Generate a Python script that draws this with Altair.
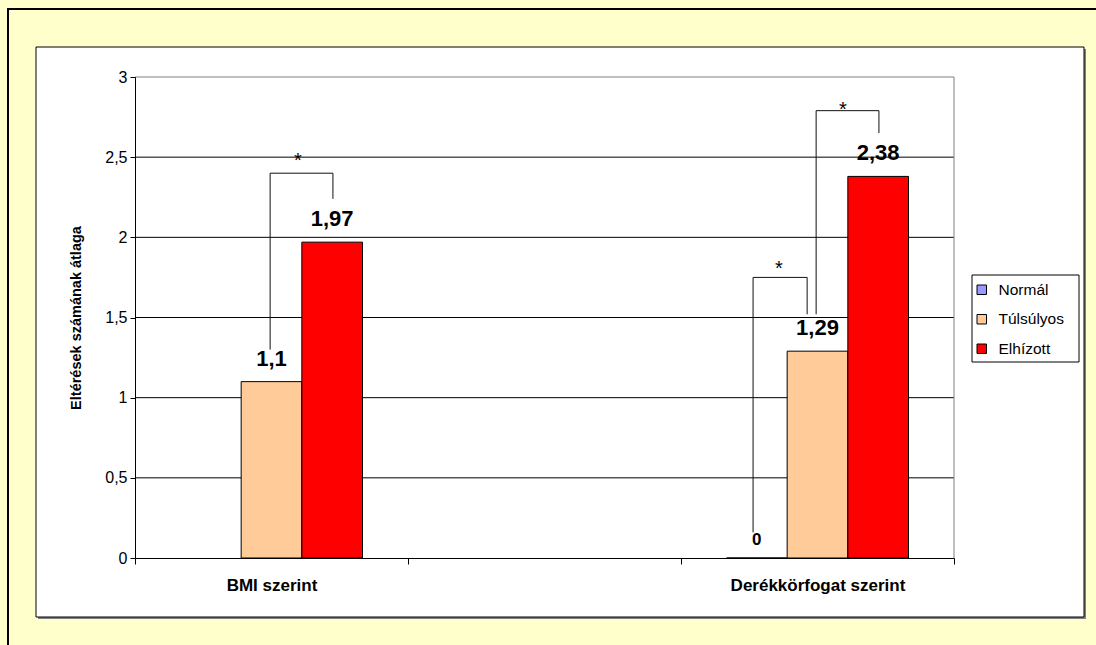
import altair as alt
import pandas as pd

# Category slots along the x axis (the middle slot stays empty)
category_labels = ["BMI szerint", "", "Derékkörfogat szerint"]
series_names = ["Normál", "Túlsúlyos", "Elhízott"]
series_colors = ["#9999FF", "#FFCC99", "#FF0000"]

# Mean number of deviations per group (None = no bar)
bmi_values = [None, 1.1, 1.97]
derek_values = [0.0, 1.29, 2.38]

y_ticks = [0, 0.5, 1, 1.5, 2, 2.5, 3]

# Significance brackets: x in category-slot units, y in axis units
bracket_left_x = [0.495, 2.264, 2.495]
bracket_right_x = [0.725, 2.462, 2.725]
bracket_top = [2.40, 1.75, 2.79]
bracket_left_bottom = [1.30, 0.16, 1.52]
bracket_right_bottom = [2.24, 1.52, 2.65]
star_x = [0.597, 2.359, 2.593]
star_y = [2.51, 1.834, 2.825]

W, H = 819, 481
GAP = 1.5  # gap between bar groups, in bar widths
slot_units = len(series_names) + GAP

rows = []
for slot, vals in [(0, bmi_values), (2, derek_values)]:
    for k, (name, v) in enumerate(zip(series_names, vals)):
        if v is None:
            continue
        x0 = slot + (GAP / 2 + k) / slot_units
        rows.append(dict(series=name, value=v, x0=x0, x1=x0 + 1 / slot_units,
                         xc=x0 + 0.5 / slot_units,
                         label=f"{v:g}".replace(".", ",")))
bars_df = pd.DataFrame(rows)

brackets_df = pd.DataFrame(dict(lx=bracket_left_x, rx=bracket_right_x, top=bracket_top,
                                lb=bracket_left_bottom, rb=bracket_right_bottom))
stars_df = pd.DataFrame(dict(x=star_x, y=star_y))
grid_df = pd.DataFrame(dict(v=y_ticks[1:-1]))
top_df = pd.DataFrame(dict(v=y_ticks[-1:]))
one = pd.DataFrame(dict(k=[0]))

xscale = alt.Scale(domain=[0, len(category_labels)], nice=False)
yscale = alt.Scale(domain=[0, 3], nice=False)

label_expr = " : ".join(
    f"datum.value == {i + 0.5} ? '{lab}'" for i, lab in enumerate(category_labels) if lab
) + " : ''"
x_axis = alt.Axis(
    values=[0, 0.5, 1, 2, 2.5, 3], labelExpr=label_expr, title=None, grid=False,
    tickOpacity={"condition": {"test": "datum.value % 1 === 0", "value": 1}, "value": 0},
    domainColor="black", tickColor="black", tickSize=6, labelFontSize=17,
    labelFontWeight="bold", labelColor="black", labelPadding=13, labelFlush=False,
    labelOverlap=False, zindex=1,
)
y_axis = alt.Axis(
    values=y_ticks, labelExpr="replace(toString(datum.value), '.', ',')", grid=False,
    title="Eltérések számának átlaga", titleFontSize=14.5, titleFontWeight="bold",
    titleColor="black", titlePadding=21, tickSize=5, tickColor="black",
    domainColor="black", labelFontSize=16, labelColor="black", labelPadding=3, zindex=1,
)

# Frame decorations: outer border, shadowed white panel
border_left = alt.Chart(one).mark_rule(color="black", strokeWidth=2).encode(
    x=alt.value(-127), y=alt.value(-69), y2=alt.value(568))
border_top = alt.Chart(one).mark_rule(color="black", strokeWidth=2).encode(
    x=alt.value(-128), x2=alt.value(961), y=alt.value(-68))
shadow = alt.Chart(one).mark_rect(fill="#808080").encode(
    x=alt.value(-97), x2=alt.value(951), y=alt.value(-28), y2=alt.value(542))
panel = alt.Chart(one).mark_rect(fill="white", stroke="black", strokeWidth=1).encode(
    x=alt.value(-99), x2=alt.value(949), y=alt.value(-30), y2=alt.value(540))

grid = alt.Chart(grid_df).mark_rule(color="black", strokeWidth=1).encode(
    y=alt.Y("v:Q", scale=yscale, axis=y_axis), x=alt.value(0), x2=alt.value(W))
top_edge = alt.Chart(top_df).mark_rule(color="#808080", strokeWidth=1).encode(
    y=alt.Y("v:Q", scale=yscale, axis=y_axis), x=alt.value(0), x2=alt.value(W))
right_edge = alt.Chart(one).mark_rule(color="#808080", strokeWidth=1).encode(
    x=alt.value(W), y=alt.value(0), y2=alt.value(H))

legend_box = alt.Chart(one).mark_rect(fill="white", stroke="black", strokeWidth=1).encode(
    x=alt.value(837), x2=alt.value(944), y=alt.value(198), y2=alt.value(285))

bars = alt.Chart(bars_df).mark_rect(stroke="black", strokeWidth=1).encode(
    x=alt.X("x0:Q", scale=xscale, axis=x_axis),
    x2="x1:Q",
    y=alt.Y("value:Q", scale=yscale, axis=y_axis),
    y2=alt.datum(0),
    color=alt.Color(
        "series:N",
        scale=alt.Scale(domain=series_names, range=series_colors),
        legend=alt.Legend(
            orient="none", legendX=839, legendY=205, title=None, padding=0,
            symbolType="square", symbolSize=90, symbolStrokeColor="black",
            symbolStrokeWidth=1, labelFontSize=15.5, labelColor="black",
            rowPadding=12.5, labelOffset=9, zindex=1,
        ),
    ),
)

labels = alt.Chart(bars_df).transform_filter("datum.value > 0").mark_text(
    fontSize=22, fontWeight="bold", baseline="middle", dy=-23, color="black"
).encode(x=alt.X("xc:Q", scale=xscale, axis=x_axis),
         y=alt.Y("value:Q", scale=yscale, axis=y_axis), text="label:N")
zero_labels = alt.Chart(bars_df).transform_filter("datum.value == 0").mark_text(
    fontSize=17, fontWeight="bold", baseline="middle", dy=-18, color="black"
).encode(x=alt.X("xc:Q", scale=xscale, axis=x_axis),
         y=alt.Y("value:Q", scale=yscale, axis=y_axis), text="label:N")

leg_l = alt.Chart(brackets_df).mark_rule(color="#111111", strokeWidth=1).encode(
    x=alt.X("lx:Q", scale=xscale, axis=x_axis),
    y=alt.Y("lb:Q", scale=yscale, axis=y_axis), y2="top:Q")
leg_r = alt.Chart(brackets_df).mark_rule(color="#111111", strokeWidth=1).encode(
    x=alt.X("rx:Q", scale=xscale, axis=x_axis),
    y=alt.Y("rb:Q", scale=yscale, axis=y_axis), y2="top:Q")
bar_top = alt.Chart(brackets_df).mark_rule(color="#111111", strokeWidth=1).encode(
    x=alt.X("lx:Q", scale=xscale, axis=x_axis), x2="rx:Q",
    y=alt.Y("top:Q", scale=yscale, axis=y_axis))
stars = alt.Chart(stars_df).mark_text(
    text="*", fontSize=20, baseline="alphabetic", dy=11, color="black"
).encode(x=alt.X("x:Q", scale=xscale, axis=x_axis),
         y=alt.Y("y:Q", scale=yscale, axis=y_axis))

chart = alt.layer(
    border_left, border_top, shadow, panel, grid, top_edge, right_edge,
    bars, labels, zero_labels, leg_l, leg_r, bar_top, stars, legend_box,
).properties(
    width=W, height=H,
    padding={"left": 135, "top": 77, "right": 142, "bottom": 87},
    autosize=alt.AutoSizeParams(type="none"),
    background="#FFFFCC",
).configure(font="Liberation Sans").configure_view(strokeWidth=0)

chart.save("out.html", embed_options={"renderer": "svg", "actions": False})
